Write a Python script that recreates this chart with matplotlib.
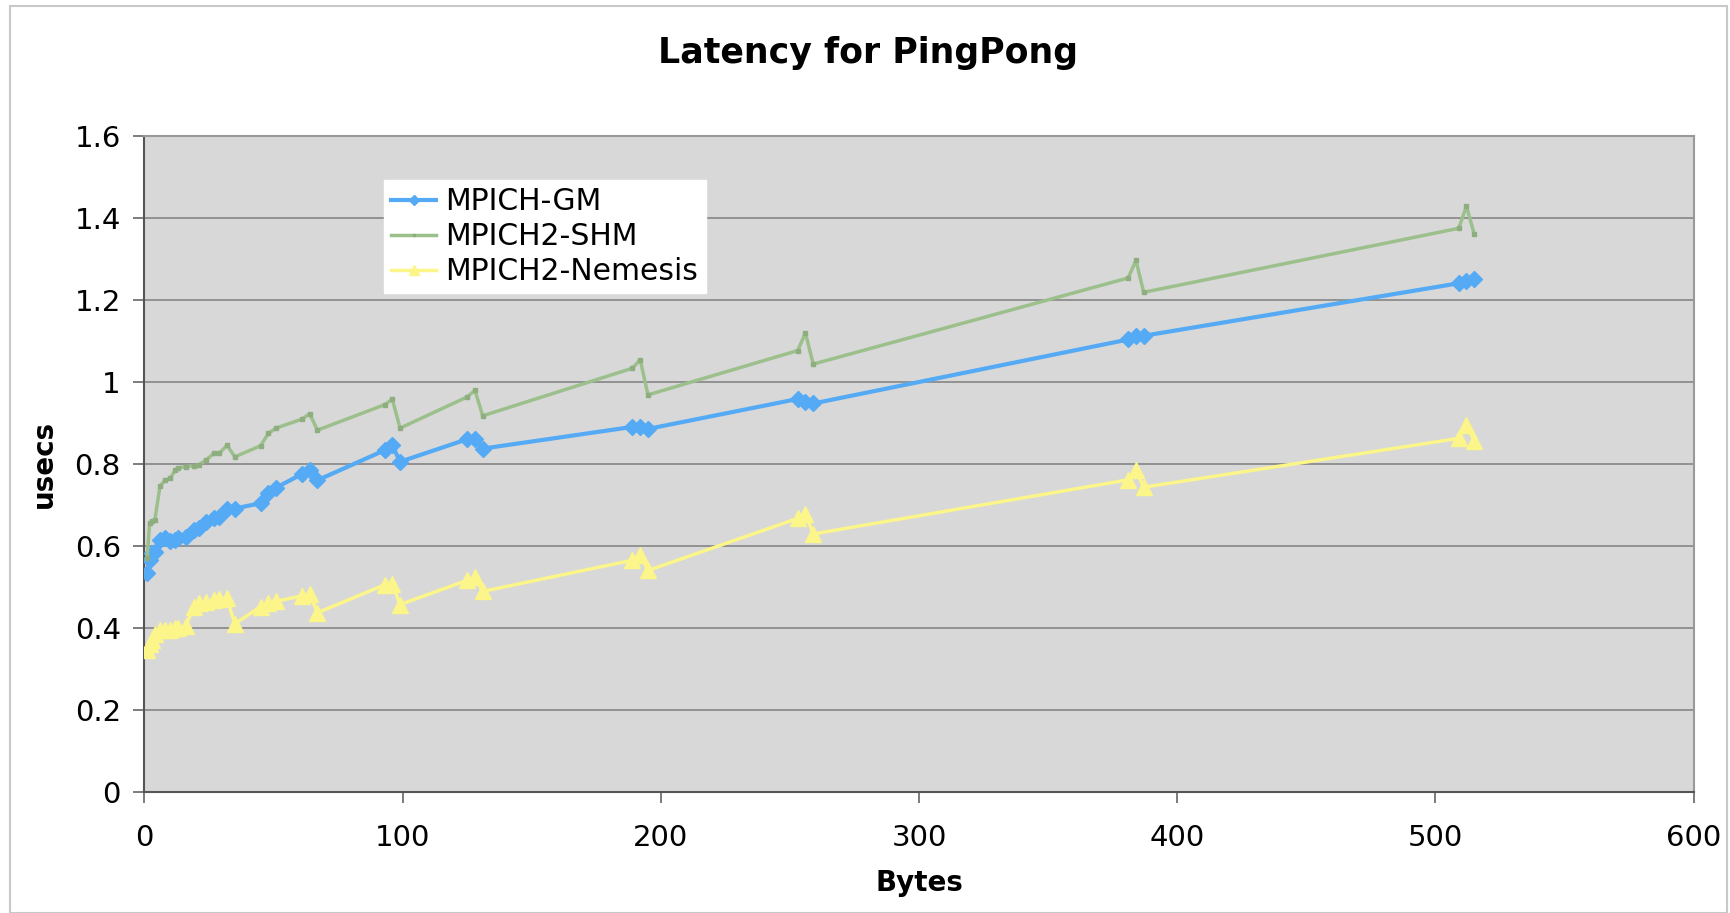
import matplotlib.pyplot as plt
import matplotlib.ticker as mticker
from matplotlib.patches import Rectangle

# message sizes (NetPIPE style, +/-3 perturbation)
sizes = [1, 2, 3, 4, 6, 8, 10, 12, 13, 16, 19, 21, 24, 27, 29, 32, 35,
         45, 48, 51, 61, 64, 67, 93, 96, 99, 125, 128, 131,
         189, 192, 195, 253, 256, 259, 381, 384, 387, 509, 512, 515]

gm = [0.535, 0.565, 0.582, 0.586, 0.614, 0.618, 0.612, 0.614, 0.618, 0.622,
      0.639, 0.643, 0.659, 0.667, 0.671, 0.691, 0.691,
      0.704, 0.728, 0.742, 0.775, 0.785, 0.760, 0.833, 0.845, 0.805,
      0.860, 0.860, 0.837, 0.890, 0.890, 0.885, 0.958, 0.950, 0.947,
      1.103, 1.112, 1.112, 1.240, 1.245, 1.250]

shm = [0.570, 0.655, 0.660, 0.662, 0.745, 0.760, 0.765, 0.785, 0.790, 0.793,
       0.795, 0.797, 0.810, 0.826, 0.826, 0.845, 0.817,
       0.844, 0.874, 0.887, 0.909, 0.922, 0.882, 0.944, 0.957, 0.887,
       0.963, 0.979, 0.917, 1.033, 1.054, 0.968, 1.076, 1.119, 1.043,
       1.253, 1.296, 1.218, 1.374, 1.428, 1.360]

nemesis = [0.345, 0.360, 0.370, 0.385, 0.395, 0.395, 0.395, 0.400, 0.400, 0.405,
           0.450, 0.460, 0.463, 0.467, 0.470, 0.472, 0.410,
           0.452, 0.460, 0.465, 0.478, 0.482, 0.437, 0.505, 0.508, 0.457,
           0.516, 0.524, 0.489, 0.565, 0.578, 0.540, 0.667, 0.678, 0.629,
           0.761, 0.784, 0.743, 0.862, 0.895, 0.856]

fig = plt.figure(figsize=(17.3, 9.13), dpi=100)
ax = fig.add_axes([0.0835, 0.1325, 0.8955, 0.719])

# outer chart frame
fig.patches.append(Rectangle((0.006, 0.0), 0.992, 0.993, transform=fig.transFigure,
                             fill=False, edgecolor='#c8c8c8', linewidth=1.5))

ax.set_facecolor('#d8d8d8')
ax.plot(sizes, gm, color='#55aaf5', linewidth=3, marker='D', markersize=8.5,
        markeredgecolor='#55aaf5', label='MPICH-GM', zorder=3)
ax.plot(sizes, shm, color='#9cc08c', linewidth=2.5, marker='s', markersize=3.5,
        markerfacecolor='#8fae80', markeredgecolor='#8fae80', label='MPICH2-SHM', zorder=3)
ax.plot(sizes, nemesis, color='#fbf58a', linewidth=2.5, marker='^', markersize=11,
        markeredgecolor='#fbf58a', label='MPICH2-Nemesis', zorder=3)

ax.set_xlim(0, 600)
ax.set_ylim(0, 1.6)
ax.xaxis.set_major_locator(mticker.MultipleLocator(100))
ax.yaxis.set_major_locator(mticker.MultipleLocator(0.2))
ax.yaxis.set_major_formatter(mticker.FuncFormatter(lambda v, p: '%g' % round(v, 1)))
ax.grid(axis='y', color='#8c8c8c', linewidth=1.3)
ax.set_axisbelow(True)
ax.tick_params(labelsize=21, length=8, width=1.2, color='#666666')
ax.tick_params(axis='x', pad=15)
ax.tick_params(axis='y', pad=9)

for side in ['left', 'bottom']:
    ax.spines[side].set_color('#555555')
    ax.spines[side].set_linewidth(1.5)
for side in ['top', 'right']:
    ax.spines[side].set_color('#999999')
    ax.spines[side].set_linewidth(1.5)

fig.text(0.502, 0.942, 'Latency for PingPong', fontsize=25, fontweight='bold',
         ha='center', va='center')
ax.set_xlabel('Bytes', fontsize=20, fontweight='bold')
ax.set_ylabel('usecs', fontsize=20, fontweight='bold')
ax.xaxis.set_label_coords(0.5, -0.138)
ax.yaxis.set_label_coords(-0.065, 0.5)
ax.xaxis.label.set_va('center')
ax.yaxis.label.set_va('center')

leg = ax.legend(loc='upper left', bbox_to_anchor=(0.1546, 0.933), fontsize=21.5,
                frameon=True, fancybox=False, edgecolor='white', framealpha=1,
                handlelength=1.5, handletextpad=0.3, borderpad=0.25, labelspacing=0.2,
                borderaxespad=0, markerscale=0.6)

fig.savefig('out.png', dpi=100)
